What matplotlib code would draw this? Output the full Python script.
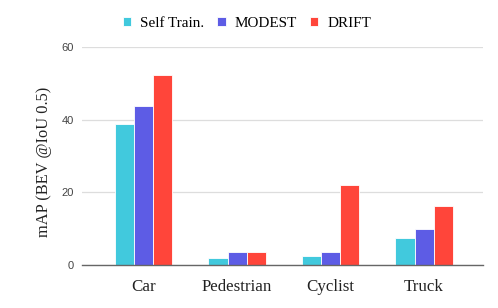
import numpy as np
import matplotlib.pyplot as plt

# Data
categories = ['Car', 'Pedestrian', 'Cyclist', 'Truck']
series = ['Self Train.', 'MODEST', 'DRIFT']
self_train = [38.7, 1.8, 2.6, 7.3]
modest = [43.7, 3.7, 3.5, 9.9]
drift = [52.4, 3.5, 22.0, 16.2]
colors = ['#41C9DD', '#5D5CE5', '#FF453A']
yticks = [0, 20, 40, 60]

fig = plt.figure(figsize=(4.98, 3.08), dpi=100)
ax = fig.add_axes([82/498, 1 - 265/308, (483 - 82)/498, (265 - 47)/308])

x = np.arange(len(categories))
w = 0.205
for i, (vals, lab, c) in enumerate(zip([self_train, modest, drift], series, colors)):
    ax.bar(x + (i - 1) * w, vals, width=w, color=c, edgecolor='white',
           linewidth=0.6, label=lab, zorder=3)

ax.set_xlim(-0.66, 3.63)
ax.set_ylim(0, 60)
ax.set_yticks(yticks)
ax.set_yticklabels([str(t) for t in yticks], fontsize=8, color='#444444',
                   family='Liberation Sans')
ax.set_xticks(x)
ax.set_xticklabels(categories, fontsize=12.2, family='Liberation Serif', color='#222222')
ax.tick_params(axis='both', length=0)
ax.tick_params(axis='y', pad=6)
ax.tick_params(axis='x', pad=10)
ax.grid(axis='y', color='#dddddd', linewidth=0.9, zorder=0)
for s in ['top', 'right', 'left']:
    ax.spines[s].set_visible(False)
ax.spines['bottom'].set_color('#666666')
ax.spines['bottom'].set_linewidth(1.0)
ax.spines['bottom'].set_zorder(4)

ax.set_ylabel('mAP (BEV @IoU 0.5)', fontsize=11.8, family='Liberation Serif',
              color='#222222', va='center')
ax.yaxis.set_label_coords(-0.095, 0.474)

fig.legend(loc='center', bbox_to_anchor=(247/498, 1 - 23.5/308), ncol=3, frameon=False,
           prop={'family': 'Liberation Serif', 'size': 10.9}, handlelength=0.55,
           handleheight=0.55, handletextpad=0.6, columnspacing=0.85)

fig.savefig('out.png', dpi=100)
